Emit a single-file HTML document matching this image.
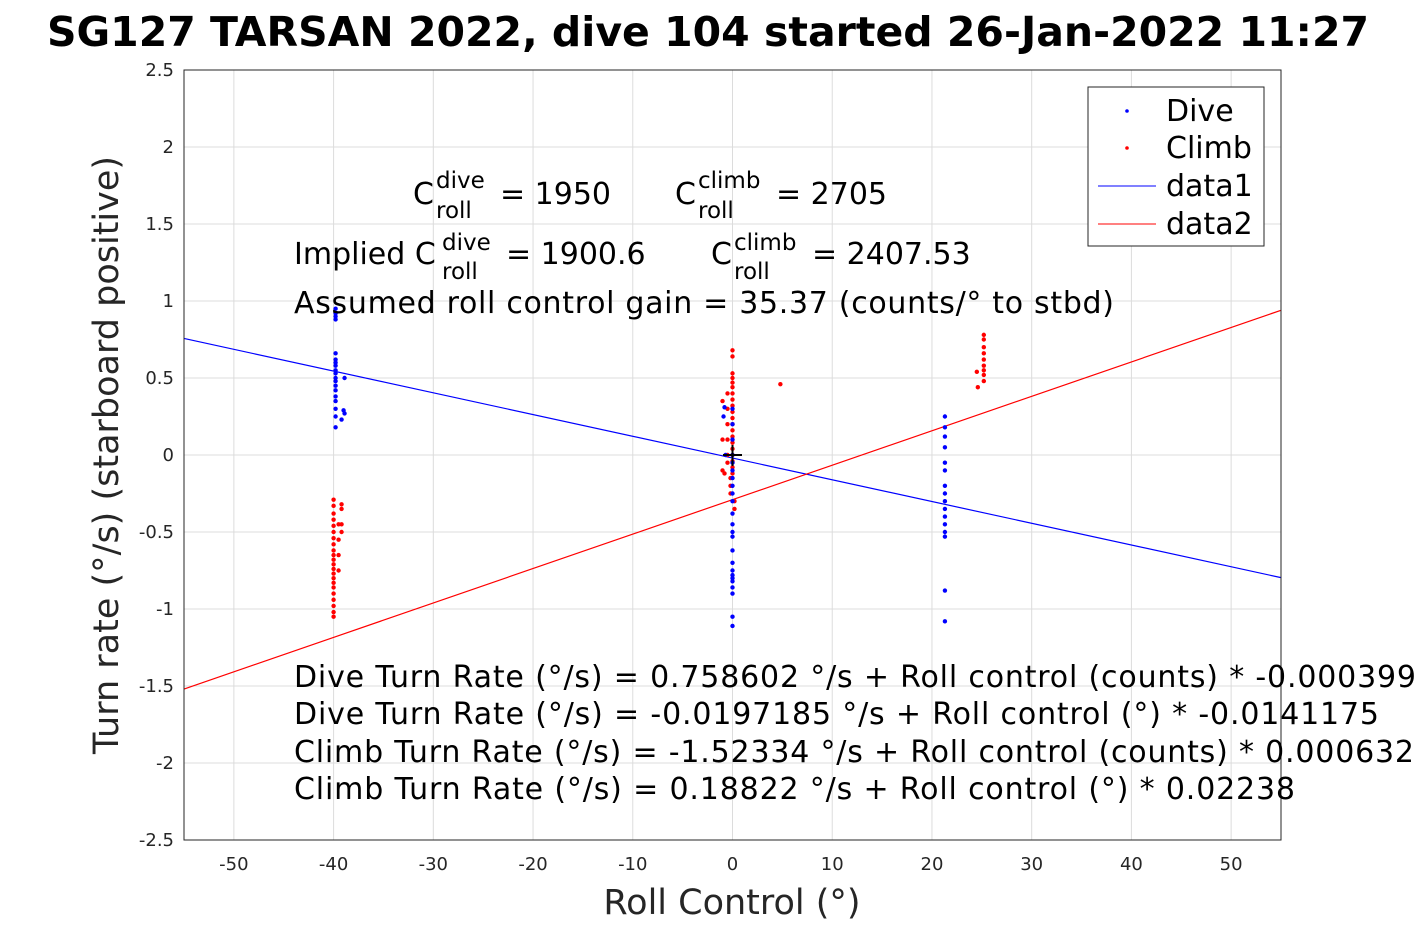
<!DOCTYPE html>
<html><head><meta charset="utf-8"><style>
body{margin:0;background:#fff;width:1417px;height:945px;overflow:hidden}
svg{display:block;font-family:"DejaVu Sans","Liberation Sans",sans-serif}
</style></head><body>
<svg id="chart" width="1417" height="945" xmlns="http://www.w3.org/2000/svg">
<text x="708" y="46" text-anchor="middle" font-size="41" font-weight="bold">SG127 TARSAN 2022, dive 104 started 26-Jan-2022 11:27</text>
<rect x="184" y="70" width="1097" height="770" fill="#fff"/>
<g id="grid"></g><g id="lines"></g><g id="pts"></g>
<rect x="184" y="70" width="1097" height="770" fill="none" stroke="#262626" stroke-width="1"/>
<g id="ticks" font-size="18" fill="#262626"></g>
<text x="732" y="914" text-anchor="middle" font-size="35" fill="#262626">Roll Control (°)</text>
<text transform="translate(118,455) rotate(-90)" text-anchor="middle" font-size="35" fill="#262626">Turn rate (°/s) (starboard positive)</text>
<g font-size="30" fill="#000">
<text x="413" y="204">C</text><text x="436" y="188" font-size="23">dive</text><text x="436" y="218" font-size="23">roll</text><text x="500" y="204">= 1950</text>
<text x="675" y="204">C</text><text x="698" y="188" font-size="23">climb</text><text x="698" y="218" font-size="23">roll</text><text x="776" y="204">= 2705</text>
<text x="294" y="264">Implied C</text><text x="442" y="250" font-size="23">dive</text><text x="442" y="279" font-size="23">roll</text><text x="506" y="264">= 1900.6</text>
<text x="711" y="264">C</text><text x="734" y="250" font-size="23">climb</text><text x="734" y="279" font-size="23">roll</text><text x="812" y="264">= 2407.53</text>
<text x="294" y="313" textLength="820">Assumed roll control gain = 35.37 (counts/° to stbd)</text>
</g>
<g font-size="30" fill="#000">
<text x="294" y="687" textLength="1122">Dive Turn Rate (°/s) = 0.758602 °/s + Roll control (counts) * -0.000399</text>
<text x="294" y="724" textLength="1085">Dive Turn Rate (°/s) = -0.0197185 °/s + Roll control (°) * -0.0141175</text>
<text x="294" y="762" textLength="1120">Climb Turn Rate (°/s) = -1.52334 °/s + Roll control (counts) * 0.000632</text>
<text x="294" y="799" textLength="1001">Climb Turn Rate (°/s) = 0.18822 °/s + Roll control (°) * 0.02238</text>
</g>
<g stroke="#000" stroke-width="2"><line x1="723" y1="455" x2="742" y2="455"/><line x1="732.5" y1="445" x2="732.5" y2="466"/></g>
<g>
<rect x="1088" y="87" width="176" height="159" fill="#fff" stroke="#262626"/>
<circle cx="1127" cy="111" r="1.8" fill="#00f"/><text x="1166" y="121" font-size="30">Dive</text>
<circle cx="1127" cy="148" r="1.8" fill="#f00"/><text x="1166" y="158" font-size="30">Climb</text>
<line x1="1098" y1="186" x2="1156" y2="186" stroke="#00f"/><text x="1166" y="196" font-size="30">data1</text>
<line x1="1098" y1="224" x2="1156" y2="224" stroke="#f00"/><text x="1166" y="234" font-size="30">data2</text>
</g>
</svg>
<script>
const xTicks=[-50,-40,-30,-20,-10,0,10,20,30,40,50];
const yTicks=[-2.5,-2,-1.5,-1,-0.5,0,0.5,1,1.5,2,2.5];
const fitIntercepts=[-0.0197185,-0.29];
const fitSlopes=[-0.0141175,0.02236];
const diveX=[-39.8,-39.8,-39.8,-39.8,-39.8,-39.8,-39.8,-39.8,-39.8,-39.8,-39.8,-39.8,-39.8,-39.8,-39.8,-39.8,-39.8,-39.8,-39.8,-38.9,-39.0,-38.9,-39.2,
-0.8,-0.9,-0.7,0,0,0,0,0,0,0,0,0,0,0,0,0,0,0,0,0,0,0,0,0,0,0,0,
21.3,21.3,21.3,21.3,21.3,21.3,21.3,21.3,21.3,21.3,21.3,21.3,21.3,21.3,21.3,21.3];
const diveY=[0.95,0.92,0.9,0.88,0.66,0.62,0.6,0.58,0.55,0.53,0.5,0.48,0.45,0.42,0.38,0.35,0.3,0.25,0.18,0.5,0.29,0.27,0.23,
0.31,0.25,0.0,0.3,0.2,0.1,0.0,-0.05,-0.1,-0.2,-0.25,-0.3,-0.38,-0.45,-0.5,-0.53,-0.62,-0.7,-0.75,-0.78,-0.8,-0.82,-0.86,-0.9,-1.05,-1.11,-0.15,
0.25,0.18,0.12,0.05,-0.05,-0.1,-0.2,-0.25,-0.3,-0.35,-0.4,-0.45,-0.5,-0.53,-0.88,-1.08];
const climbX=[-40,-40,-40,-40,-40,-40,-40,-40,-40,-40,-40,-40,-40,-40,-40,-40,-40,-40,-40,-40,-40,-40,-39.5,-39.5,-39.5,-39.5,-39.2,-39.2,-39.2,-39.2,
0,0,0,0,0,0,0,0,0,0,0,0,0,0,0,0,0,0,0,0,-0.5,-0.5,-0.5,-0.5,-0.5,-0.5,-1,-1,-1,-0.2,-0.2,-0.2,-0.8,0.2,0.2,4.8,
25.2,25.2,25.2,25.2,25.2,25.2,25.2,25.2,25.2,24.5,24.6];
const climbY=[-0.29,-0.33,-0.38,-0.42,-0.46,-0.5,-0.54,-0.58,-0.62,-0.65,-0.68,-0.71,-0.74,-0.77,-0.8,-0.83,-0.86,-0.9,-0.94,-0.98,-1.02,-1.05,-0.45,-0.55,-0.65,-0.75,-0.32,-0.35,-0.45,-0.5,
0.68,0.64,0.53,0.5,0.47,0.44,0.4,0.36,0.32,0.28,0.24,0.2,0.16,0.12,0.08,0.04,0.0,-0.04,-0.08,-0.12,0.4,0.3,0.2,0.1,0.0,-0.05,0.35,0.1,-0.1,-0.15,-0.2,-0.25,-0.12,-0.3,-0.35,0.46,
0.78,0.75,0.7,0.66,0.62,0.58,0.55,0.52,0.48,0.54,0.44];
const X0=184,X1=1281,Y0=840,Y1=70,XMIN=-55,XMAX=55,YMIN=-2.5,YMAX=2.5;
const sx=v=>X0+(v-XMIN)/(XMAX-XMIN)*(X1-X0);
const sy=v=>Y0-(v-YMIN)/(YMAX-YMIN)*(Y0-Y1);
const NS='http://www.w3.org/2000/svg';
function mk(t,a,p){const e=document.createElementNS(NS,t);for(const k in a)e.setAttribute(k,a[k]);p.appendChild(e);return e;}
const grid=document.getElementById('grid'),ticks=document.getElementById('ticks');
xTicks.forEach(v=>{
 const g=mk('line',{x1:sx(v),x2:sx(v),y1:Y1,y2:Y0,stroke:'#dcdcdc'},grid);
 
 
 const t=mk('text',{x:sx(v),y:870,'text-anchor':'middle'},ticks);t.textContent=v;
 
 
});
yTicks.forEach(v=>{
 const g=mk('line',{x1:X0,x2:X1,y1:sy(v),y2:sy(v),stroke:'#dcdcdc'},grid);
 
 
 const t=mk('text',{x:174,y:sy(v)+6,'text-anchor':'end'},ticks);t.textContent=v;
 
 
});
const lines=document.getElementById('lines');const cols=['#00f','#f00'];
fitSlopes.forEach((m,i)=>{
 const b=fitIntercepts[i];
 const l=mk('line',{x1:sx(XMIN),y1:sy(b+m*XMIN),x2:sx(XMAX),y2:sy(b+m*XMAX),stroke:cols[i],'stroke-width':1.2},lines);
 
 
});
const pts=document.getElementById('pts');
climbX.forEach((x,i)=>{const c=mk('circle',{cx:sx(x),cy:sy(climbY[i]),r:2.2,fill:'#f00'},pts);
 
 });
diveX.forEach((x,i)=>{const c=mk('circle',{cx:sx(x),cy:sy(diveY[i]),r:2.2,fill:'#00f'},pts);
 
 });
</script>
</body></html>
